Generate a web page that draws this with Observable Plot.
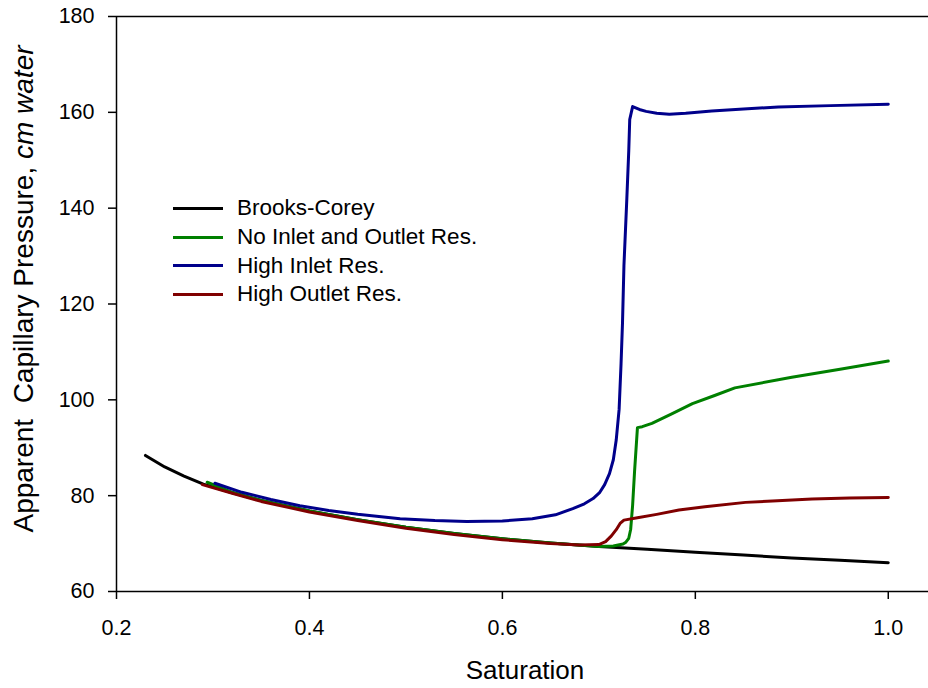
<!DOCTYPE html>
<html>
<head>
<meta charset="utf-8">
<script src="https://cdn.jsdelivr.net/npm/d3@7"></script>
<script src="https://cdn.jsdelivr.net/npm/@observablehq/plot@0.6"></script>
<style>
  html, body { margin: 0; padding: 0; background: #fff; }
  #wrap { position: relative; width: 928px; height: 688px; font-family: Arial, "Liberation Sans", sans-serif; }
  #legend { position: absolute; left: 173px; top: 194px; font-size: 22.5px; color: #000; }
  #legend .row { display: flex; align-items: center; height: 28.7px; }
  #legend .sw { width: 50px; height: 3px; margin-right: 14px; }
</style>
</head>
<body>
<div id="wrap"><div id="chart"></div><div id="legend"></div></div>
<script>
// ---- data ----
const seriesNames = ["Brooks-Corey", "No Inlet and Outlet Res.", "High Inlet Res.", "High Outlet Res."];
const seriesColors = ["#000000", "#008000", "#00008b", "#800000"];

const bcS = [0.230,0.25,0.27,0.29,0.32,0.35,0.40,0.45,0.50,0.55,0.60,0.65,0.70,0.75,0.80,0.85,0.90,0.95,1.00];
const bcP = [88.4,86.0,84.1,82.4,80.6,79.0,76.8,75.0,73.4,72.1,71.0,70.1,69.4,68.8,68.2,67.6,67.0,66.5,66.0];

const noS = [0.294,0.32,0.35,0.40,0.45,0.50,0.55,0.60,0.65,0.70,0.715,0.725,0.728,0.731,0.733,0.735,0.737,0.740,0.745,0.755,0.775,0.797,0.82,0.841,0.90,0.95,1.00];
const noP = [82.8,80.7,79.0,76.8,75.0,73.4,72.1,71.0,70.1,69.4,69.5,69.9,70.3,71.1,73.0,78.0,85.0,94.2,94.4,95.1,97.0,99.2,100.9,102.5,104.7,106.4,108.1];

const hiS = [0.302,0.33,0.36,0.39,0.42,0.45,0.494,0.53,0.563,0.60,0.631,0.655,0.673,0.685,0.694,0.701,0.706,0.711,0.715,0.718,0.721,0.723,0.7245,0.726,0.729,0.731,0.732,0.735,0.742,0.749,0.760,0.773,0.79,0.817,0.85,0.886,0.94,1.00];
const hiP = [82.6,80.7,79.2,77.9,76.9,76.1,75.2,74.8,74.6,74.7,75.2,76.0,77.3,78.3,79.4,80.7,82.3,84.6,87.5,91.6,98.0,107.5,116.0,128.0,142.0,152.0,158.5,161.2,160.6,160.2,159.8,159.6,159.8,160.3,160.7,161.1,161.4,161.7];

const hoS = [0.289,0.32,0.35,0.40,0.45,0.50,0.55,0.60,0.65,0.68,0.70,0.707,0.713,0.718,0.722,0.726,0.74,0.76,0.783,0.81,0.852,0.88,0.921,0.96,1.00];
const hoP = [82.3,80.5,78.8,76.6,74.8,73.2,71.9,70.8,70.0,69.7,69.8,70.4,71.6,72.9,74.2,74.9,75.4,76.1,77.0,77.7,78.6,78.9,79.3,79.5,79.6];

const xTicks = [0.2, 0.4, 0.6, 0.8, 1.0];
const yTicks = [60, 80, 100, 120, 140, 160, 180];
const xTitle = "Saturation";
const yTitleMain = "Apparent  Capillary Pressure, ";
const yTitleUnit = "cm water";

// ---- build table ----
const rows = [];
[[bcS, bcP], [noS, noP], [hiS, hiP], [hoS, hoP]].forEach(([S, P], i) => {
  S.forEach((s, j) => rows.push({series: seriesNames[i], s, p: P[j]}));
});

const chart = Plot.plot({
  width: 928,
  height: 688,
  marginTop: 16,
  marginLeft: 116,
  marginRight: 0,
  marginBottom: 97,
  style: {fontFamily: "Arial, 'Liberation Sans', sans-serif", background: "#fff"},
  x: {domain: [0.2, 1.0417]},
  y: {domain: [60, 180]},
  color: {domain: seriesNames, range: seriesColors},
  marks: [
    Plot.ruleY([60], {stroke: "#000", strokeWidth: 1.5}),
    Plot.ruleY([180], {stroke: "#000", strokeWidth: 1.5}),
    Plot.ruleX([0.2], {stroke: "#000", strokeWidth: 1.5}),
    Plot.axisX({ticks: xTicks, tickFormat: d3.format(".1f"), tickSize: 8, tickPadding: 20, fontSize: 21.5, label: null, stroke: "#000", strokeWidth: 1.5}),
    Plot.axisY({ticks: yTicks, tickSize: 8, tickPadding: 14, fontSize: 21.5, label: null, stroke: "#000", strokeWidth: 1.5}),
    Plot.line(rows, {x: "s", y: "p", z: "series", stroke: "series", strokeWidth: 3, curve: "linear"})
  ]
});
document.getElementById("chart").appendChild(chart);

// axis titles as real text
const svg = d3.select(chart);
svg.append("text")
  .attr("x", 525).attr("y", 679)
  .attr("text-anchor", "middle")
  .attr("font-size", 26)
  .attr("fill", "#000")
  .text(xTitle);
const yt = svg.append("text")
  .attr("transform", "translate(33,289) rotate(-90)")
  .attr("text-anchor", "middle")
  .attr("font-size", 28)
  .attr("fill", "#000");
yt.append("tspan").text(yTitleMain);
yt.append("tspan").attr("font-style", "italic").text(yTitleUnit);

// legend
const leg = d3.select("#legend");
seriesNames.forEach((n, i) => {
  const r = leg.append("div").attr("class", "row");
  r.append("div").attr("class", "sw").style("background", seriesColors[i]);
  r.append("span").text(n);
});
</script>
</body>
</html>
